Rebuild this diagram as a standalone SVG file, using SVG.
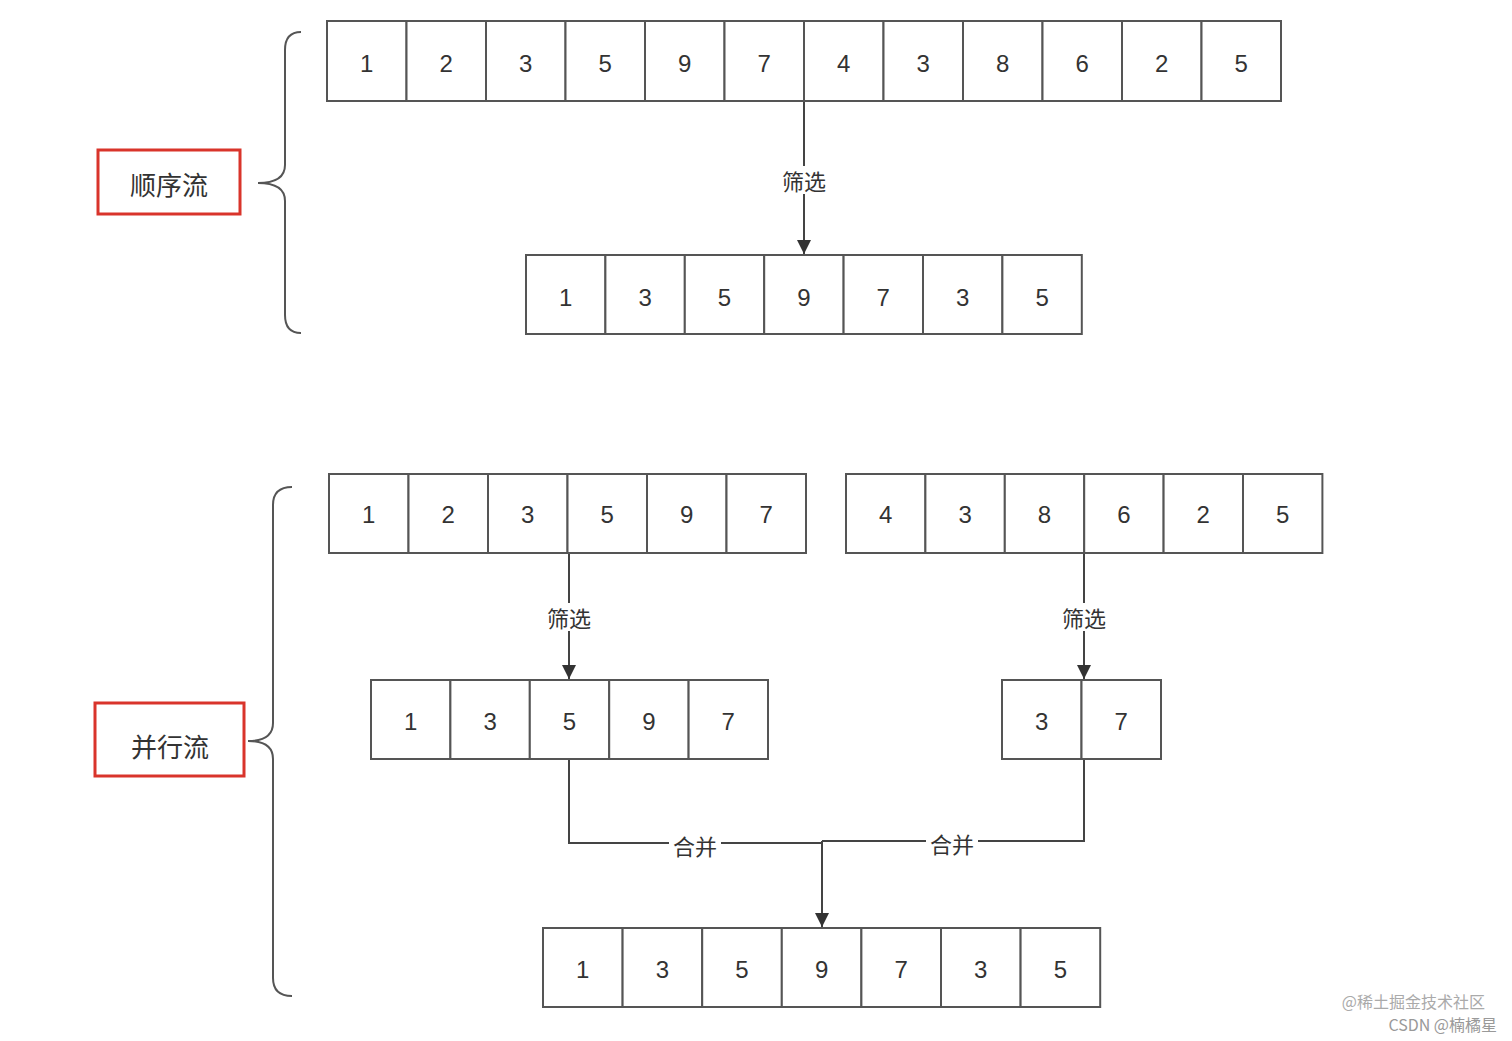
<svg xmlns="http://www.w3.org/2000/svg" width="1512" height="1041" viewBox="0 0 1512 1041">
<defs>
<style>
.c{fill:#fff;stroke:#555;stroke-width:2}
.t{font-family:"Liberation Sans","Noto Sans CJK SC",sans-serif;font-size:24px;fill:#333;text-anchor:middle;dominant-baseline:central}
.l{font-family:"Noto Sans CJK SC",sans-serif;font-size:22px;fill:#333;text-anchor:middle;dominant-baseline:central}
.e{fill:none;stroke:#444;stroke-width:2}
.b{fill:none;stroke:#555;stroke-width:2}
.r{fill:#fff;stroke:#d9342b;stroke-width:3}
.w{font-family:"Noto Sans CJK SC",sans-serif;font-size:16px;fill:#aaa;text-anchor:end}
</style>
<marker id="a" viewBox="0 0 10 10" refX="10" refY="5" markerWidth="7" markerHeight="7" orient="auto"><path d="M0,0L10,5L0,10z" fill="#333"/></marker>
</defs>
<rect width="1512" height="1041" fill="#fff"/>
<g id="braces">
<path class="b" d="M301,32 Q285,32 285,50 L285,165 Q285,183 258,183 Q285,183 285,201 L285,315 Q285,333 301,333"/>
<path class="b" d="M292,487 Q273,487 273,505 L273,723 Q273,741 248,741 Q273,741 273,759 L273,978 Q273,996 292,996"/>
</g>
<g id="label1"><rect class="r" x="98" y="150" width="142" height="64"/><text class="l" x="169" y="183" style="font-size:26px">顺序流</text></g>
<g id="label2"><rect class="r" x="95" y="703" width="149" height="73"/><text class="l" x="170" y="745" style="font-size:26px">并行流</text></g>
<g id="connectors">
<line class="e" x1="804" y1="101" x2="804" y2="254" marker-end="url(#a)"/>
<rect x="776" y="166" width="56" height="28" fill="#fff"/><text class="l" x="804" y="180">筛选</text>
<line class="e" x1="569" y1="553" x2="569" y2="679" marker-end="url(#a)"/>
<rect x="541" y="603" width="56" height="28" fill="#fff"/><text class="l" x="569" y="617">筛选</text>
<line class="e" x1="1084" y1="553" x2="1084" y2="679" marker-end="url(#a)"/>
<rect x="1056" y="603" width="56" height="28" fill="#fff"/><text class="l" x="1084" y="617">筛选</text>
<path class="e" d="M569,759 L569,843 L822,843"/>
<path class="e" d="M1084,759 L1084,841 L822,841"/>
<line class="e" x1="822" y1="841" x2="822" y2="927" marker-end="url(#a)"/>
<rect x="669" y="831" width="52" height="28" fill="#fff"/><text class="l" x="695" y="845">合并</text>
<rect x="926" y="829" width="52" height="28" fill="#fff"/><text class="l" x="952" y="843">合并</text>
</g>
<g id="row1">
<rect class="c" x="327" y="21" width="79.5" height="80"/><text class="t" x="366.75" y="63">1</text>
<rect class="c" x="406.5" y="21" width="79.5" height="80"/><text class="t" x="446.25" y="63">2</text>
<rect class="c" x="486" y="21" width="79.5" height="80"/><text class="t" x="525.75" y="63">3</text>
<rect class="c" x="565.5" y="21" width="79.5" height="80"/><text class="t" x="605.25" y="63">5</text>
<rect class="c" x="645" y="21" width="79.5" height="80"/><text class="t" x="684.75" y="63">9</text>
<rect class="c" x="724.5" y="21" width="79.5" height="80"/><text class="t" x="764.25" y="63">7</text>
<rect class="c" x="804" y="21" width="79.5" height="80"/><text class="t" x="843.75" y="63">4</text>
<rect class="c" x="883.5" y="21" width="79.5" height="80"/><text class="t" x="923.25" y="63">3</text>
<rect class="c" x="963" y="21" width="79.5" height="80"/><text class="t" x="1002.75" y="63">8</text>
<rect class="c" x="1042.5" y="21" width="79.5" height="80"/><text class="t" x="1082.25" y="63">6</text>
<rect class="c" x="1122" y="21" width="79.5" height="80"/><text class="t" x="1161.75" y="63">2</text>
<rect class="c" x="1201.5" y="21" width="79.5" height="80"/><text class="t" x="1241.25" y="63">5</text>
</g>
<g id="row2">
<rect class="c" x="526" y="255" width="79.4" height="79"/><text class="t" x="565.7" y="297">1</text>
<rect class="c" x="605.4" y="255" width="79.4" height="79"/><text class="t" x="645.1" y="297">3</text>
<rect class="c" x="684.8" y="255" width="79.4" height="79"/><text class="t" x="724.5" y="297">5</text>
<rect class="c" x="764.2" y="255" width="79.4" height="79"/><text class="t" x="803.9" y="297">9</text>
<rect class="c" x="843.6" y="255" width="79.4" height="79"/><text class="t" x="883.3" y="297">7</text>
<rect class="c" x="923" y="255" width="79.4" height="79"/><text class="t" x="962.7" y="297">3</text>
<rect class="c" x="1002.4" y="255" width="79.4" height="79"/><text class="t" x="1042.1" y="297">5</text>
</g>
<g id="rowA">
<rect class="c" x="329" y="474" width="79.5" height="79"/><text class="t" x="368.75" y="514">1</text>
<rect class="c" x="408.5" y="474" width="79.5" height="79"/><text class="t" x="448.25" y="514">2</text>
<rect class="c" x="488" y="474" width="79.5" height="79"/><text class="t" x="527.75" y="514">3</text>
<rect class="c" x="567.5" y="474" width="79.5" height="79"/><text class="t" x="607.25" y="514">5</text>
<rect class="c" x="647" y="474" width="79.5" height="79"/><text class="t" x="686.75" y="514">9</text>
<rect class="c" x="726.5" y="474" width="79.5" height="79"/><text class="t" x="766.25" y="514">7</text>
</g>
<g id="rowB">
<rect class="c" x="846" y="474" width="79.4" height="79"/><text class="t" x="885.7" y="514">4</text>
<rect class="c" x="925.4" y="474" width="79.4" height="79"/><text class="t" x="965.1" y="514">3</text>
<rect class="c" x="1004.8" y="474" width="79.4" height="79"/><text class="t" x="1044.5" y="514">8</text>
<rect class="c" x="1084.2" y="474" width="79.4" height="79"/><text class="t" x="1123.9" y="514">6</text>
<rect class="c" x="1163.6" y="474" width="79.4" height="79"/><text class="t" x="1203.3" y="514">2</text>
<rect class="c" x="1243" y="474" width="79.4" height="79"/><text class="t" x="1282.7" y="514">5</text>
</g>
<g id="rowC">
<rect class="c" x="371" y="680" width="79.4" height="79"/><text class="t" x="410.7" y="721">1</text>
<rect class="c" x="450.4" y="680" width="79.4" height="79"/><text class="t" x="490.1" y="721">3</text>
<rect class="c" x="529.8" y="680" width="79.4" height="79"/><text class="t" x="569.5" y="721">5</text>
<rect class="c" x="609.2" y="680" width="79.4" height="79"/><text class="t" x="648.9" y="721">9</text>
<rect class="c" x="688.6" y="680" width="79.4" height="79"/><text class="t" x="728.3" y="721">7</text>
</g>
<g id="rowD">
<rect class="c" x="1002" y="680" width="79.5" height="79"/><text class="t" x="1041.75" y="721">3</text>
<rect class="c" x="1081.5" y="680" width="79.5" height="79"/><text class="t" x="1121.25" y="721">7</text>
</g>
<g id="rowE">
<rect class="c" x="543" y="928" width="79.6" height="79"/><text class="t" x="582.8" y="969">1</text>
<rect class="c" x="622.6" y="928" width="79.6" height="79"/><text class="t" x="662.4" y="969">3</text>
<rect class="c" x="702.2" y="928" width="79.6" height="79"/><text class="t" x="742" y="969">5</text>
<rect class="c" x="781.8" y="928" width="79.6" height="79"/><text class="t" x="821.6" y="969">9</text>
<rect class="c" x="861.4" y="928" width="79.6" height="79"/><text class="t" x="901.2" y="969">7</text>
<rect class="c" x="941" y="928" width="79.6" height="79"/><text class="t" x="980.8" y="969">3</text>
<rect class="c" x="1020.6" y="928" width="79.6" height="79"/><text class="t" x="1060.4" y="969">5</text>
</g>
<g id="watermark">
<text class="w" x="1485" y="1008">@稀土掘金技术社区</text>
<text class="w" x="1497" y="1031" style="fill:#999">CSDN @楠橘星</text>
</g>
</svg>
